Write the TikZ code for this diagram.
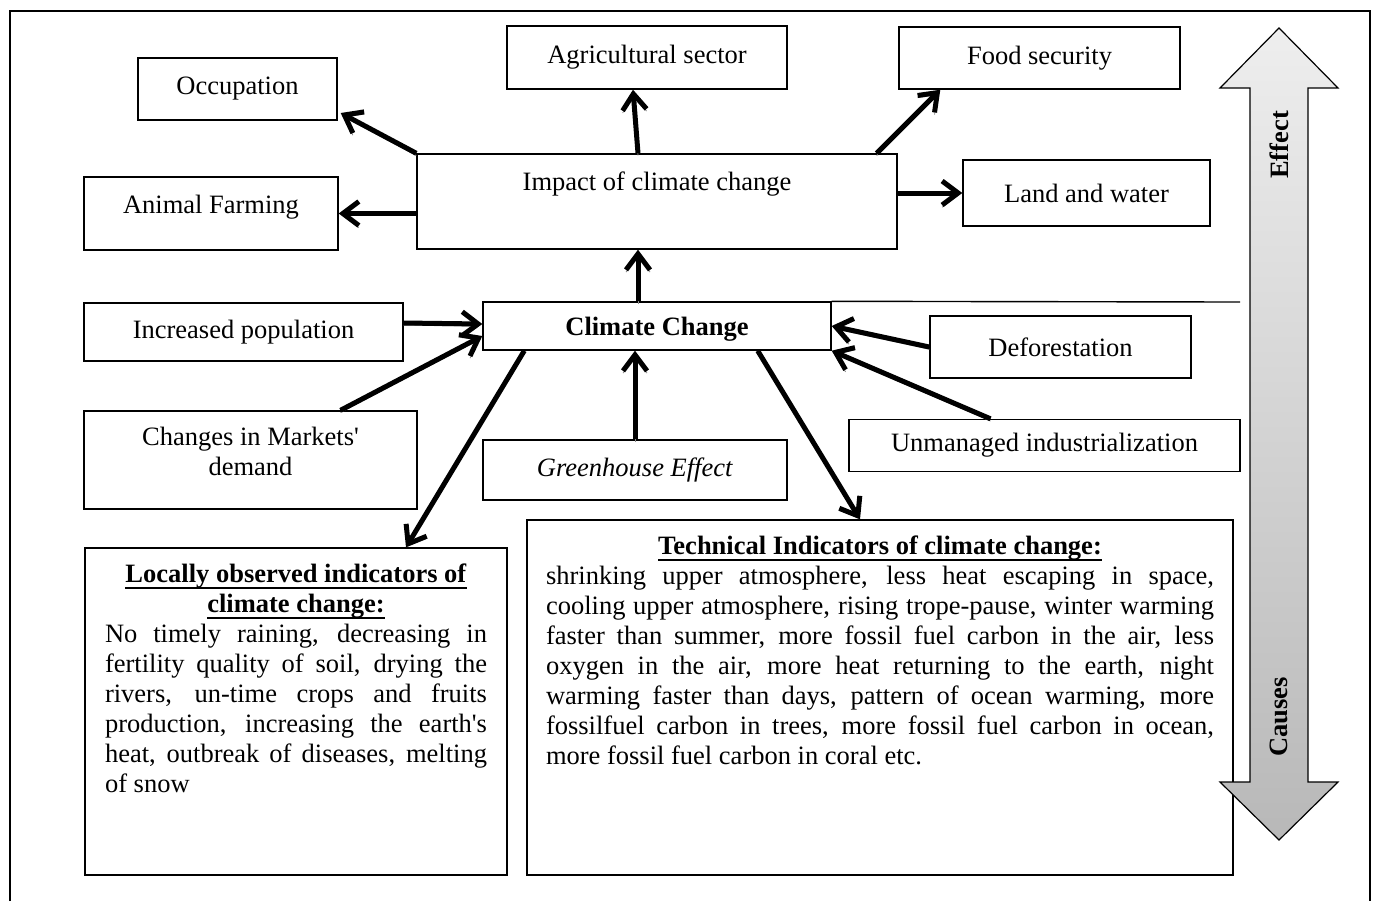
\documentclass[tikz,border=0pt]{standalone}
\usepackage{fontspec}
\setmainfont{Liberation Serif}
\usepackage{xcolor}
\usepackage{tikz}
\usetikzlibrary{arrows.meta}
\definecolor{shadowgray}{HTML}{8C8C8C}
\definecolor{arrowtop}{HTML}{EEEEEE}
\definecolor{arrowbot}{HTML}{B8B8B8}
\tikzset {
  % plain rectangular box
  box/.style = {draw, rectangle, line width=0.7pt, inner sep=0pt, align=center},
  % thick arrow with a grey shadow under it
  arr/.style = {line width=2.5pt, -{Straight Barb[length=8pt,width=12pt]},
    preaction={draw=shadowgray, transform canvas={yshift=-1.1pt}}},
  % the big up/down arrow on the right
  bigarrow/.style = {draw, line width=0.6pt, top color=arrowtop, bottom color=arrowbot},
}
% bold title with a rule close under it
\newcommand{\ttl}[1]{\leavevmode{\setbox0\hbox{\textbf{#1}}\rlap{\rule[-3pt]{\wd0}{1pt}}\box0}}

\begin{document}
\begin{tikzpicture}[x=0.5pt, y=-0.5pt, font=\fontsize{13.25pt}{15pt}\selectfont]
  \useasboundingbox (0,0) rectangle (1374,901);
  \draw[line width=1pt] (10,901) -- (10,11) -- (1370,11) -- (1370,901);

  % effects
  \node[box, minimum width=99.5pt, minimum height=31pt] (occ) at (237.5,89) {Occupation};
  \node[box, minimum width=140pt, minimum height=31.5pt] (agri) at (647,57.5) {Agricultural sector};
  \node[box, minimum width=140.5pt, minimum height=31pt] (food) at (1039.5,58) {Food security};
  \node[box, minimum width=240pt, minimum height=47.5pt,
        label={[anchor=north, yshift=-5.9pt]north:Impact of climate change}] (impact) at (657,201.5) {};
  \node[box, minimum width=127pt, minimum height=36.5pt, text depth=9.5pt] (animal) at (211,213.5) {Animal Farming};
  \node[box, minimum width=123.5pt, minimum height=33pt] (land) at (1086.5,193) {Land and water};

  % causes
  \node[box, minimum width=174pt, minimum height=24pt, text height=12pt] (cc) at (657,326) {\textbf{Climate Change}};
  \node[box, minimum width=159.5pt, minimum height=29pt] (pop) at (243.5,332) {Increased population};
  \node[box, minimum width=166.5pt, minimum height=49pt, text depth=9pt] (markets) at (250.5,460) {Changes in Markets\textquotesingle\\demand};
  \node[box, minimum width=152pt, minimum height=30pt] (green) at (635,470) {\textit{Greenhouse Effect}};
  \node[box, minimum width=130.5pt, minimum height=31pt] (defo) at (1060.5,347) {Deforestation};
  \node[box, minimum width=195.5pt, minimum height=26pt] (unman) at (1044.5,445.5) {Unmanaged industrialization};
  \coordinate (lineend) at (1240,302);
  \draw[line width=0.7pt] (cc.north east) -- (lineend);

  % indicators
  \node[box, inner xsep=10pt, inner ysep=8pt] (local) at (296,711.5) {%
    \begin{minipage}[c][147.5pt][t]{191pt}\tolerance=10000
      {\centering\ttl{Locally observed indicators of}\\\ttl{climate change:}\par}
      No timely raining, decreasing in\linebreak
      fertility quality of soil, drying the\linebreak
      rivers, un-time crops and fruits\linebreak
      production, increasing the earth\textquotesingle s\linebreak
      heat, outbreak of diseases, melting\linebreak
      of snow
    \end{minipage}};
  \node[box, inner xsep=9.5pt, inner ysep=8pt] (tech) at (880,697.5) {%
    \begin{minipage}[c][161.5pt][t]{334pt}\tolerance=10000
      {\centering\ttl{Technical Indicators of climate change:}\par}
      shrinking upper atmosphere, less heat escaping in space,\linebreak
      cooling upper atmosphere, rising trope-pause, winter warming\linebreak
      faster than summer, more fossil fuel carbon in the air, less\linebreak
      oxygen in the air, more heat returning to the earth, night\linebreak
      warming faster than days, pattern of ocean warming, more\linebreak
      fossilfuel carbon in trees, more fossil fuel carbon in ocean,\linebreak
      more fossil fuel carbon in coral etc.
    \end{minipage}};

  % effect / causes arrow
  \draw[bigarrow] (1279,28) -- (1338,88) -- (1308,88) -- (1308,782) -- (1338,782)
    -- (1279,840) -- (1220,782) -- (1250,782) -- (1250,88) -- (1220,88) -- cycle;
  \node[rotate=90] (effect) at (1279,145) {\textbf{Effect}};
  \node[rotate=90] (causes) at (1279,717) {\textbf{Causes}};

  \draw[arr] (impact.north west) -- ([xshift=1.5pt,yshift=-12pt]occ.east);
  \draw[arr] (impact.west |- animal.east) -- (animal.east);
  \draw[arr] ([xshift=-9.5pt]impact.north) -- ([xshift=-7pt]agri.south);
  \draw[arr] ([xshift=-10.5pt]impact.north east) -- ([xshift=21pt]food.south west);
  \draw[arr] (impact.east |- land.west) -- (land.west);
  \draw[arr] ([xshift=-9.5pt]cc.north) -- ([xshift=-9.5pt]impact.south);
  \draw[arr] ([yshift=4.5pt]pop.east) -- ([yshift=1pt]cc.west);
  \draw[arr] ([xshift=45pt]markets.north) -- ([yshift=-5pt]cc.west);
  \draw[arr] (green.north) -- (green.north |- cc.south);
  \draw[arr] (defo.west) -- (cc.east);
  \draw[arr] ([xshift=-27pt]unman.north) -- (cc.south east);
  \draw[arr] ([xshift=21pt]cc.south west) -- ([xshift=55pt]local.north);
  \draw[arr] ([xshift=-37pt]cc.south east) -- ([xshift=-10pt]tech.north);
\end{tikzpicture}
\end{document}
